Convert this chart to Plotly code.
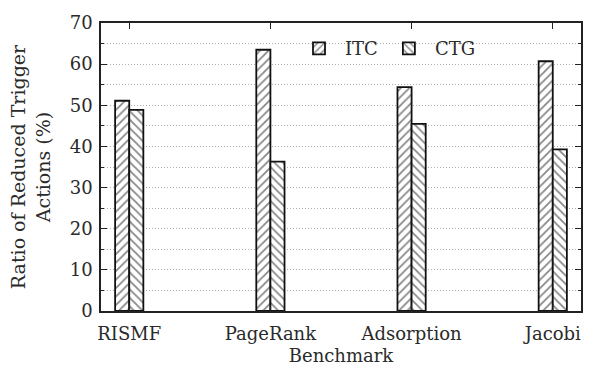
import plotly.graph_objects as go

categories = ["RISMF", "PageRank", "Adsorption", "Jacobi"]
itc_values = [51.1, 63.5, 54.4, 60.7]
ctg_values = [48.9, 36.3, 45.5, 39.3]
y_ticks = [0, 10, 20, 30, 40, 50, 60, 70]

FONT = "DejaVu Serif"
INK = "#2a2a2a"

fig = go.Figure()
fig.add_trace(go.Bar(
    x=categories, y=itc_values, name="ITC",
    marker=dict(color="white", line=dict(color="#111", width=1.8),
                pattern=dict(shape="/", fgcolor="#111", bgcolor="white", size=6, solidity=0.3)),
))
fig.add_trace(go.Bar(
    x=categories, y=ctg_values, name="CTG",
    marker=dict(color="white", line=dict(color="#111", width=1.8),
                pattern=dict(shape="\\", fgcolor="#111", bgcolor="white", size=6, solidity=0.3)),
))

fig.update_layout(
    width=595, height=376,
    margin=dict(l=101, r=14, t=15, b=65),
    paper_bgcolor="white", plot_bgcolor="white",
    barmode="group", bargap=0.8, bargroupgap=0,
    font=dict(family=FONT, size=18, color=INK),
    legend=dict(orientation="h", x=0.40, y=0.975, xanchor="left", yanchor="top",
                bgcolor="rgba(0,0,0,0)", font=dict(size=18, family=FONT),
                itemwidth=42, tracegroupgap=0),
    showlegend=True,
)
fig.update_xaxes(
    range=[-0.2, 3.2],
    showline=True, linecolor="#222", linewidth=1.5, mirror="ticks",
    ticks="inside", ticklen=6, tickcolor="#222", tickwidth=1.2,
    showgrid=False,
    ticklabelstandoff=6,
    title=dict(text="Benchmark", standoff=6, font=dict(size=18)),
    tickfont=dict(size=18),
)
fig.update_yaxes(
    range=[0, 70],
    tickvals=y_ticks,
    showline=True, linecolor="#222", linewidth=1.5, mirror="ticks",
    ticks="inside", ticklen=6, tickcolor="#222", tickwidth=1.2,
    showgrid=True, gridcolor="#b0b0b0", griddash="1px,2px", gridwidth=1,
    minor=dict(dtick=5, ticks="inside", ticklen=3, tickcolor="#222",
               showgrid=True, gridcolor="#b0b0b0", griddash="1px,2px", gridwidth=1),
    zeroline=False,
    ticklabelstandoff=3,
    title=dict(text="Ratio of Reduced Trigger<br>Actions (%)", standoff=14, font=dict(size=19)),
    tickfont=dict(size=18),
)

fig.write_html("out.html")
